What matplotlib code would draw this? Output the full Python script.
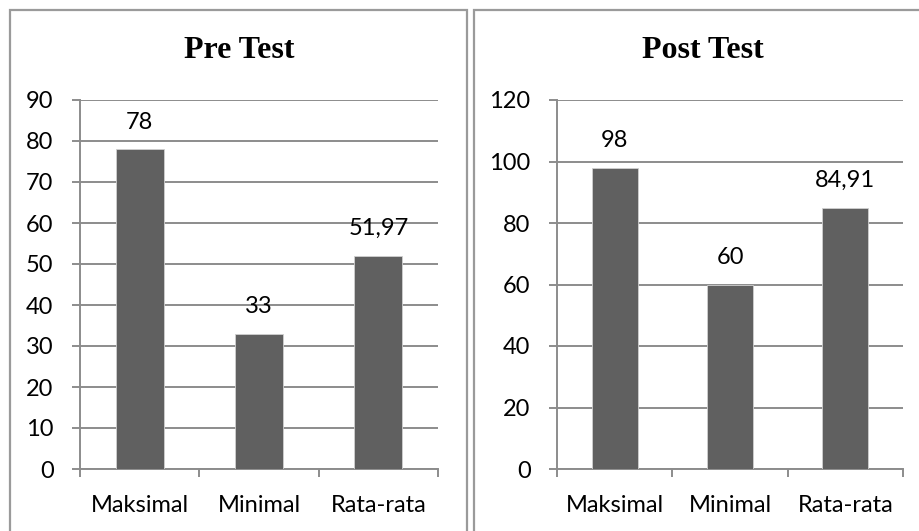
import matplotlib
matplotlib.use("Agg")
import matplotlib.pyplot as plt
from matplotlib.patches import Rectangle

KATEGORI = ["Maksimal", "Minimal", "Rata-rata"]
PRE_TEST = [78, 33, 51.97]
POST_TEST = [98, 60, 84.91]

BAR_FARGE = "#606060"
LINJE_FARGE = "#8c8c8c"
TEKST_FONT = ["Lato", "DejaVu Sans"]
TEKST_STR = 17

W, H = 919, 531


def fig_x(px):
    return px / W


def fig_y(px):
    return 1 - px / H


def tegn_panel(fig, rect, verdier, ymax, steg, tittel, tittel_x):
    ax = fig.add_axes(rect)
    x = range(len(verdier))
    ax.bar(x, verdier, width=0.4, color=BAR_FARGE, edgecolor="#d0d0d0",
           linewidth=0.6, zorder=3)

    for xi, v in zip(x, verdier):
        tekst = f"{v:g}".replace(".", ",")
        ax.annotate(tekst, (xi, v), xytext=(0, 19.5), textcoords="offset points",
                    ha="center", va="center", fontsize=TEKST_STR, family=TEKST_FONT)

    ax.set_xlim(-0.5, len(verdier) - 0.5)
    ax.set_ylim(0, ymax)
    ax.set_yticks(range(0, ymax + 1, steg))
    # kategorigrenser som hovedmerker, navnene midt i som hjelpemerker
    ax.set_xticks([i - 0.5 for i in range(len(verdier) + 1)], minor=False)
    ax.set_xticklabels([])
    ax.set_xticks(list(x), minor=True)
    ax.set_xticklabels(KATEGORI, minor=True, fontsize=TEKST_STR, family=TEKST_FONT)

    ax.grid(axis="y", color=LINJE_FARGE, linewidth=1.4, zorder=0)
    for side in ["top", "right"]:
        ax.spines[side].set_visible(False)
    for side in ["left", "bottom"]:
        ax.spines[side].set_color(LINJE_FARGE)
        ax.spines[side].set_linewidth(1.4)

    ax.tick_params(axis="y", length=6, width=1.4, color=LINJE_FARGE, pad=13,
                   labelsize=TEKST_STR)
    ax.tick_params(axis="x", which="major", length=5.5, width=1.4,
                   color=LINJE_FARGE)
    ax.tick_params(axis="x", which="minor", length=0, pad=18.5)
    for lbl in ax.get_yticklabels():
        lbl.set_family(TEKST_FONT)

    fig.text(tittel_x, fig_y(50), tittel, ha="center", va="center",
             fontsize=23, fontweight="bold", family="Liberation Serif")
    return ax


fig = plt.figure(figsize=(W / 100, H / 100), dpi=100)

# rammer rundt hvert diagram
for x0, x1 in [(10, 467), (474, 935)]:
    fig.patches.append(Rectangle((fig_x(x0), fig_y(560)), fig_x(x1 - x0),
                                 (560 - 10) / H, transform=fig.transFigure,
                                 fill=False, edgecolor="#9a9a9a", linewidth=1.6))

tegn_panel(fig, [fig_x(80), fig_y(469), fig_x(438 - 80), (469 - 100) / H],
           PRE_TEST, 90, 10, "Pre Test", fig_x(239))
tegn_panel(fig, [fig_x(557), fig_y(469), fig_x(903 - 557), (469 - 100) / H],
           POST_TEST, 120, 20, "Post Test", fig_x(703))

fig.savefig("out.png", dpi=100)
